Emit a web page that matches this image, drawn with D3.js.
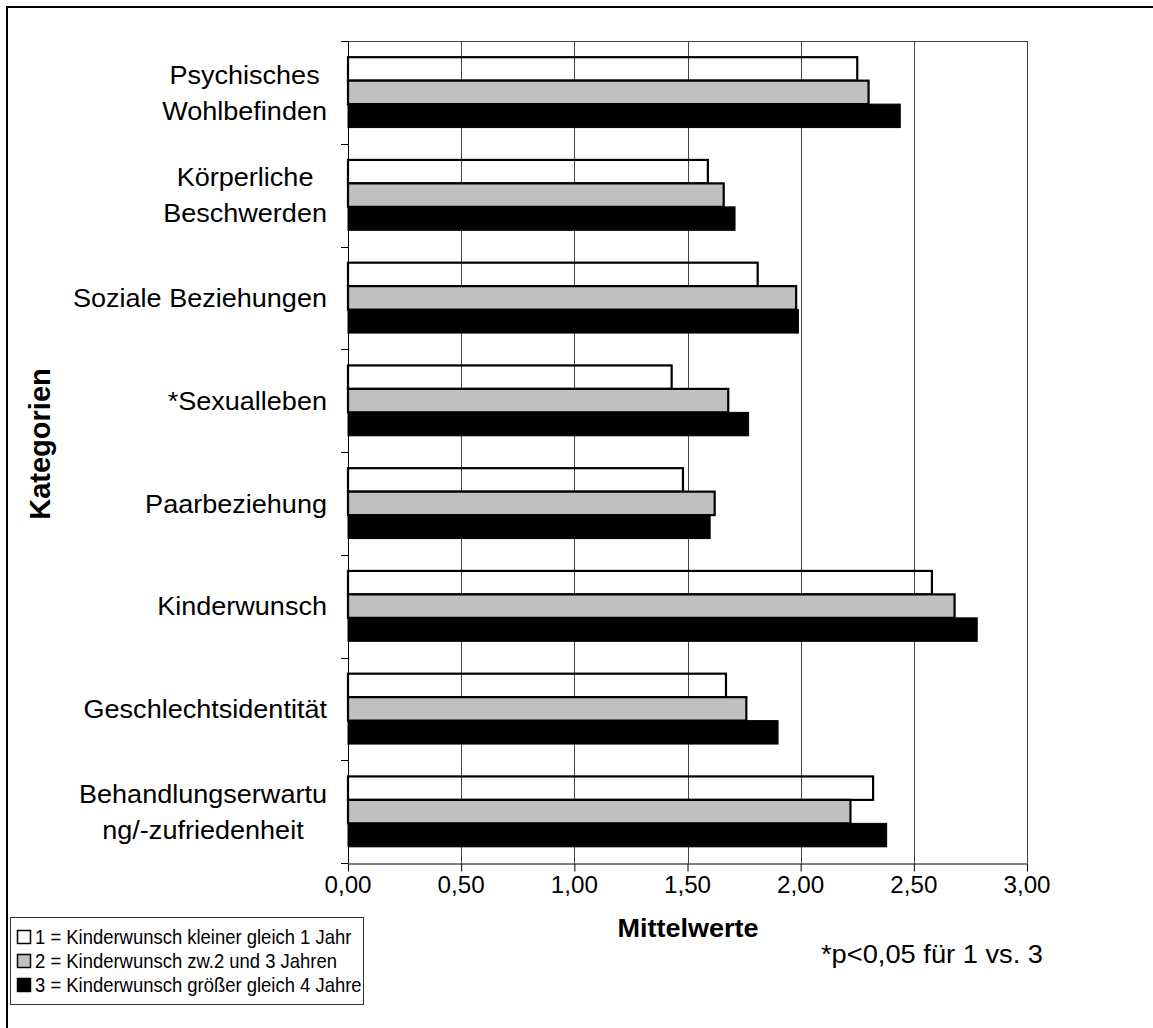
<!DOCTYPE html>
<html>
<head>
<meta charset="utf-8">
<script src="https://cdn.jsdelivr.net/npm/d3@7"></script>
<style>
    html, body { margin: 0; padding: 0; background: #fff; }
    svg { display: block; font-family: "Liberation Sans", Arial, sans-serif; }
</style>
</head>
<body>
<div id="chart"></div>
<script>
// category labels, one entry per line
const categoryLabels = [
    ['Psychisches', 'Wohlbefinden'],
    ['Körperliche', 'Beschwerden'],
    ['Soziale Beziehungen'],
    ['*Sexualleben'],
    ['Paarbeziehung'],
    ['Kinderwunsch'],
    ['Geschlechtsidentität'],
    ['Behandlungserwartu', 'ng/-zufriedenheit']
];

const seriesNames = [
    '1 = Kinderwunsch kleiner gleich 1 Jahr',
    '2 = Kinderwunsch zw.2 und 3 Jahren',
    '3 = Kinderwunsch größer gleich 4 Jahre'
];

// mean values per group, same order as categoryLabels
const group1 = [2.25, 1.59, 1.81, 1.43, 1.48, 2.58, 1.67, 2.32];
const group2 = [2.30, 1.66, 1.98, 1.68, 1.62, 2.68, 1.76, 2.22];
const group3 = [2.44, 1.71, 1.99, 1.77, 1.60, 2.78, 1.90, 2.38];

const xTicks = [0, 0.5, 1, 1.5, 2, 2.5, 3];
const xTitle = 'Mittelwerte';
const yTitle = 'Kategorien';
const note = '*p<0,05 für 1 vs. 3';

const width = 1153;
const height = 1028;
const plot = { left: 348, right: 1027, top: 41, bottom: 863 };

const fills = ['none', '#c0c0c0', '#000000'];
const legendFills = ['#ffffff', '#c0c0c0', '#000000'];

const svg = d3.select('#chart')
    .append('svg')
    .attr('width', width)
    .attr('height', height);

// text with a small horizontal scale, to get the widths of the original
function stretchedText(parent, x, y, sx, anchor) {
    return parent.append('g')
        .attr('transform', `translate(${x},${y}) scale(${sx},1)`)
        .append('text')
        .attr('text-anchor', anchor)
        .attr('fill', '#000');
}

// outer frame (runs off the right and bottom edge)
svg.append('rect')
    .attr('x', 7)
    .attr('y', 7)
    .attr('width', width + 20)
    .attr('height', height + 20)
    .attr('fill', '#fff')
    .attr('stroke', '#000')
    .attr('stroke-width', 2);

const x = d3.scaleLinear()
    .domain([0, 3])
    .range([plot.left, plot.right]);

const keys = categoryLabels.map((d, i) => i);

const y = d3.scaleBand()
    .domain(keys)
    .range([plot.top, plot.bottom])
    .paddingInner(0.315)
    .paddingOuter(0.1575);

const ySub = d3.scaleBand()
    .domain([0, 1, 2])
    .range([0, y.bandwidth()]);

const series = [group1, group2, group3];

// gridlines
svg.append('g')
    .selectAll('line')
    .data(xTicks.slice(1))
    .join('line')
    .attr('x1', d => Math.round(x(d)) + 0.5)
    .attr('x2', d => Math.round(x(d)) + 0.5)
    .attr('y1', plot.top)
    .attr('y2', plot.bottom)
    .attr('stroke', '#444')
    .attr('stroke-width', 1);

// top border of plot area
svg.append('line')
    .attr('x1', plot.left)
    .attr('x2', Math.round(plot.right) + 0.5)
    .attr('y1', plot.top + 0.5)
    .attr('y2', plot.top + 0.5)
    .attr('stroke', '#444');

// bars
series.forEach((values, s) => {
    svg.append('g')
        .selectAll('rect')
        .data(values)
        .join('rect')
        .attr('x', x(0))
        .attr('y', (d, i) => y(i) + ySub(s))
        .attr('width', d => x(d) - x(0))
        .attr('height', ySub.bandwidth())
        .attr('fill', fills[s])
        .attr('stroke', '#000')
        .attr('stroke-width', s === 2 ? 1 : 2.2);
});

// x axis
const fmt = d => d3.format('.2f')(d).replace('.', ',');
const xAxis = svg.append('g')
    .attr('transform', `translate(0,${plot.bottom + 0.5})`)
    .call(d3.axisBottom(x).tickValues(xTicks).tickFormat(fmt).tickSize(8).tickSizeOuter(0).tickPadding(4));
xAxis.select('.domain').attr('stroke', '#000');
xAxis.selectAll('.tick line').attr('stroke', '#000');
xAxis.selectAll('.tick text').remove();
xTicks.forEach(v => {
    stretchedText(svg, x(v), 893, 1.03, 'middle')
        .style('font-size', '23.5px')
        .text(fmt(v));
});

// y axis line and ticks at category boundaries
svg.append('line')
    .attr('x1', plot.left + 0.5)
    .attr('x2', plot.left + 0.5)
    .attr('y1', plot.top)
    .attr('y2', plot.bottom)
    .attr('stroke', '#000');

const boundaries = d3.range(keys.length + 1).map(i => plot.top + i * y.step());
svg.append('g')
    .selectAll('line')
    .data(boundaries)
    .join('line')
    .attr('x1', plot.left - 7)
    .attr('x2', plot.left)
    .attr('y1', d => Math.round(d) + 0.5)
    .attr('y2', d => Math.round(d) + 0.5)
    .attr('stroke', '#000');

// category labels: lines centred on each other, block right-aligned
const labelRight = 327;
const lineGap = 36;
const labelScale = 1.04;
categoryLabels.forEach((lines, i) => {
    const cy = y(i) + y.bandwidth() / 2;
    const g = svg.append('g');
    const t = g.append('text')
        .attr('text-anchor', 'middle')
        .attr('fill', '#000')
        .style('font-size', '26px');
    lines.forEach((line, j) => {
        t.append('tspan')
            .attr('x', 0)
            .attr('y', cy + (j - (lines.length - 1) / 2) * lineGap)
            .attr('dy', '0.36em')
            .text(line);
    });
    let maxW = 0;
    t.selectAll('tspan').each(function () {
        maxW = Math.max(maxW, this.getComputedTextLength());
    });
    g.attr('transform', `translate(${labelRight - maxW * labelScale / 2},0) scale(${labelScale},1)`);
});

// axis titles
svg.append('text')
    .attr('transform', 'translate(50,444) rotate(-90)')
    .attr('text-anchor', 'middle')
    .style('font-size', '29px')
    .style('font-weight', 'bold')
    .text(yTitle);

stretchedText(svg, 688, 937, 1.06, 'middle')
    .style('font-size', '25.5px')
    .style('font-weight', 'bold')
    .text(xTitle);

stretchedText(svg, 932, 963, 1.07, 'middle')
    .style('font-size', '25.5px')
    .text(note);

// legend
const legend = svg.append('g');
legend.append('rect')
    .attr('x', 10.5)
    .attr('y', 917.5)
    .attr('width', 353)
    .attr('height', 87)
    .attr('fill', '#fff')
    .attr('stroke', '#333');

seriesNames.forEach((name, i) => {
    const cy = 937 + i * 24;
    legend.append('rect')
        .attr('x', 17.5)
        .attr('y', cy - 6.5)
        .attr('width', 13)
        .attr('height', 13)
        .attr('fill', legendFills[i])
        .attr('stroke', '#000')
        .attr('stroke-width', 1.5);
    stretchedText(legend, 35, cy, 0.9, 'start')
        .attr('dy', '0.36em')
        .style('font-size', '20.5px')
        .text(name);
});
</script>
</body>
</html>
